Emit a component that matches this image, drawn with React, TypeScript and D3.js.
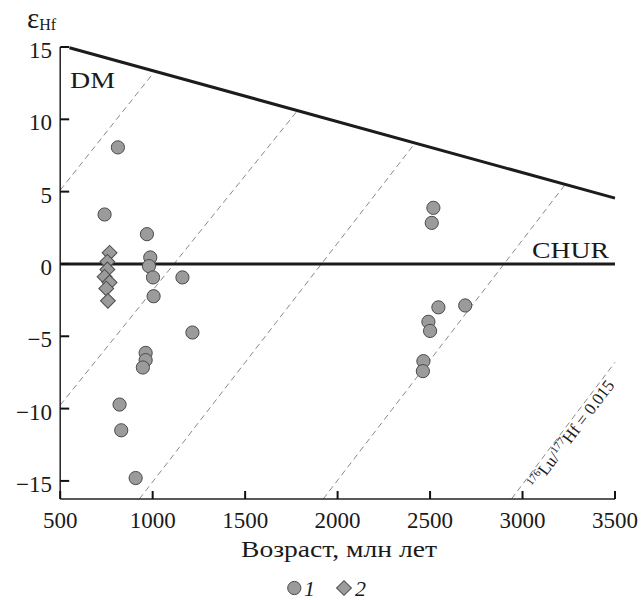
import React, { useEffect } from 'react';
import * as d3 from 'd3';

const xDomain: [number, number] = [500, 3500];
const yDomain: [number, number] = [-16.25, 15];
const xTicks = [500, 1000, 1500, 2000, 2500, 3000, 3500];
const yTicks = [-15, -10, -5, 0, 5, 10, 15];

// Series 1 (circles): age (Ma), epsilon Hf
const series1Age = [812, 740, 969, 987, 980, 1002, 1161, 1005, 1215, 962, 962, 947, 821, 830, 908, 2518, 2509, 2545, 2690, 2491, 2500, 2464, 2461];
const series1Eps = [8.06, 3.42, 2.06, 0.45, -0.15, -0.93, -0.93, -2.23, -4.74, -6.15, -6.65, -7.16, -9.72, -11.5, -14.8, 3.88, 2.84, -3.0, -2.87, -4.0, -4.63, -6.72, -7.41];

// Series 2 (diamonds)
const series2Age = [767, 755, 755, 740, 767, 749, 758];
const series2Eps = [0.77, 0.15, -0.38, -0.89, -1.28, -1.7, -2.55];

// Reference lines
const dmAge = [550, 3500];
const dmEps = [14.95, 4.55];
const churAge = [500, 3500];
const churEps = [0, 0];

// Crustal evolution lines (176Lu/177Hf = 0.015): start/end age and eps
const evoStartAge = [500, 500, 928, 1922, 2940];
const evoStartEps = [5.1, -9.76, -16.25, -16.25, -16.25];
const evoEndAge = [995, 1778, 2417, 3228, 3500];
const evoEndEps = [13.06, 10.52, 8.33, 5.45, -6.8];

const xLabel = 'Возраст, млн лет';
const legendLabels = ['1', '2'];

const FONT = '"Liberation Serif", "Times New Roman", serif';

export default function App() {
  useEffect(() => {
    document.body.style.margin = '0';
  }, []);

  const x = d3.scaleLinear().domain(xDomain).range([60.2, 615]);
  const y = d3.scaleLinear().domain(yDomain).range([499, 47]);

  const line = d3.line<[number, number]>().x(d => x(d[0])).y(d => y(d[1]));

  const dmPts: [number, number][] = dmAge.map((a, i) => [a, dmEps[i]]);
  const churPts: [number, number][] = churAge.map((a, i) => [a, churEps[i]]);

  const circleFill = '#9b9b9b';
  const markStroke = '#4a4a4a';
  const diamond = d3.symbol().type(d3.symbolSquare).size(110);

  // angle of the last evolution line for the rotated label
  const li = 4;
  const px1 = x(evoStartAge[li]), py1 = y(evoStartEps[li]);
  const px2 = x(evoEndAge[li]), py2 = y(evoEndEps[li]);
  const len = Math.hypot(px2 - px1, py2 - py1);
  const ux = (px2 - px1) / len, uy = (py2 - py1) / len;
  const nx = -uy, ny = ux; // right-down normal
  const ang = (Math.atan2(py2 - py1, px2 - px1) * 180) / Math.PI;
  const f = 0.13;
  const off = 14;
  const labelStart: [number, number] = [px1 + f * (px2 - px1) + off * nx, py1 + f * (py2 - py1) + off * ny];

  const txt = { fontFamily: FONT, fill: '#1a1a1a' } as React.CSSProperties;

  return (
    <svg width={644} height={600} style={{ display: 'block', background: '#fff', fontFamily: FONT }}>
      {/* evolution lines */}
      {evoStartAge.map((a, i) => (
        <path
          key={'evo' + i}
          d={line([[a, evoStartEps[i]], [evoEndAge[i], evoEndEps[i]]]) || ''}
          stroke="#8a8a8a"
          strokeWidth={1}
          strokeDasharray="6,4"
          fill="none"
        />
      ))}
      {/* DM & CHUR */}
      <path d={line(dmPts) || ''} stroke="#1c1c1c" strokeWidth={3} fill="none" />
      <path d={line(churPts) || ''} stroke="#1c1c1c" strokeWidth={3} fill="none" />

      {/* axes */}
      <line x1={x(500)} x2={x(500)} y1={y(15)} y2={y(yDomain[0])} stroke="#222" strokeWidth={1.5} />
      <line x1={x(500)} x2={x(3500)} y1={y(yDomain[0])} y2={y(yDomain[0])} stroke="#222" strokeWidth={1.5} />
      {yTicks.map(t => (
        <g key={'yt' + t}>
          <line x1={x(500)} x2={x(500) + 9} y1={y(t)} y2={y(t)} stroke="#111" strokeWidth={2} />
          <text x={52} y={y(t) + 11} textAnchor="end" fontSize={23} style={txt}>
            {t < 0 ? '\u2212' + Math.abs(t) : String(t)}
          </text>
        </g>
      ))}
      {xTicks.map(t => (
        <g key={'xt' + t}>
          <line x1={x(t)} x2={x(t)} y1={y(yDomain[0])} y2={y(yDomain[0]) - 8} stroke="#111" strokeWidth={2} />
          <text x={x(t)} y={528} textAnchor="middle" fontSize={23} style={txt}>
            {t}
          </text>
        </g>
      ))}
      <text x={339} y={557} textAnchor="middle" fontSize={24} style={txt} textLength={196} lengthAdjust="spacingAndGlyphs">
        {xLabel}
      </text>

      {/* y title */}
      <text x={27} y={28} fontSize={29} style={txt}>
        ε
        <tspan fontSize={16} dy={2}>Hf</tspan>
      </text>

      {/* labels */}
      <text x={70} y={88} fontSize={23} style={txt} textLength={45} lengthAdjust="spacingAndGlyphs">DM</text>
      <text x={532} y={258} fontSize={23} style={txt} textLength={77} lengthAdjust="spacingAndGlyphs">CHUR</text>

      <text
        transform={`translate(${labelStart[0]},${labelStart[1]}) rotate(${ang})`}
        fontSize={17}
        style={txt}
      >
        <tspan fontSize={11} dy={-6}>176</tspan>
        <tspan dy={6}>Lu/</tspan>
        <tspan fontSize={11} dy={-6}>177</tspan>
        <tspan dy={6}>Hf = 0.015</tspan>
      </text>

      {/* data */}
      {series1Age.map((a, i) => (
        <circle key={'c' + i} cx={x(a)} cy={y(series1Eps[i])} r={6.6} fill={circleFill} stroke={markStroke} strokeWidth={1} />
      ))}
      {series2Age.map((a, i) => (
        <path
          key={'d' + i}
          d={diamond() || ''}
          transform={`translate(${x(a)},${y(series2Eps[i])}) rotate(45)`}
          fill={circleFill}
          stroke={markStroke}
          strokeWidth={1}
        />
      ))}

      {/* legend */}
      <circle cx={294.3} cy={588} r={6.6} fill={circleFill} stroke={markStroke} strokeWidth={1} />
      <text x={304} y={596} fontSize={22} fontStyle="italic" style={txt}>{legendLabels[0]}</text>
      <path d={diamond() || ''} transform="translate(344,588) rotate(45)" fill={circleFill} stroke={markStroke} strokeWidth={1} />
      <text x={355} y={596} fontSize={22} fontStyle="italic" style={txt}>{legendLabels[1]}</text>
    </svg>
  );
}
